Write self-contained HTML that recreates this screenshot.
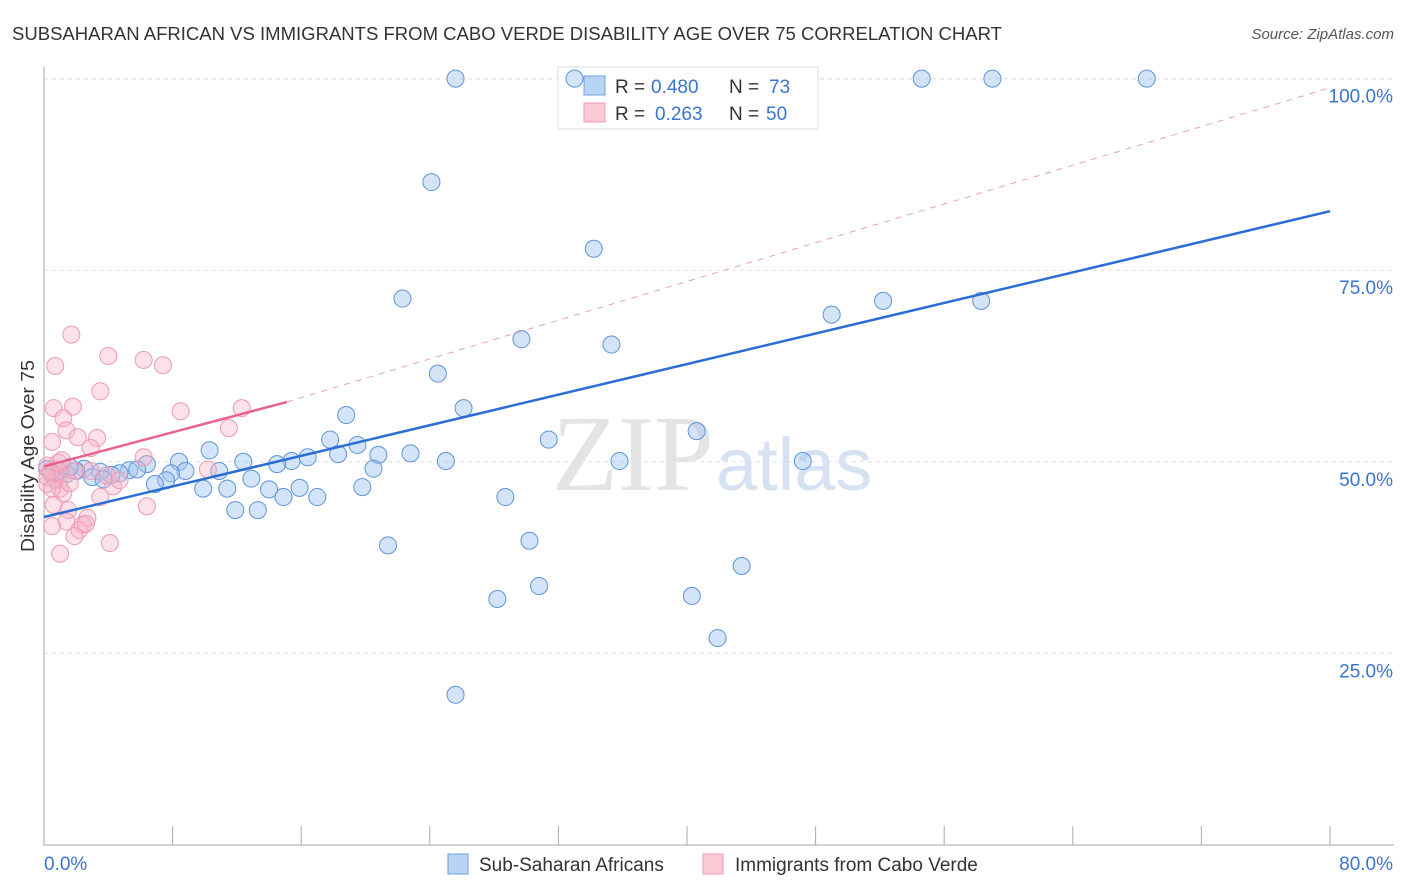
<!DOCTYPE html>
<html><head><meta charset="utf-8"><style>
body{margin:0;background:#fff;font-family:"Liberation Sans",sans-serif}
svg{display:block}
</style></head><body>
<svg id="c" width="1406" height="892" xmlns="http://www.w3.org/2000/svg">
<text x="12" y="40" font-size="18" fill="#333" textLength="990" lengthAdjust="spacingAndGlyphs">SUBSAHARAN AFRICAN VS IMMIGRANTS FROM CABO VERDE DISABILITY AGE OVER 75 CORRELATION CHART</text>
<text x="1394" y="39" font-size="15" fill="#555" font-style="italic" text-anchor="end">Source: ZipAtlas.com</text>
<text x="34" y="456" font-size="18" fill="#333" text-anchor="middle" transform="rotate(-90 34 456)" textLength="192" lengthAdjust="spacingAndGlyphs">Disability Age Over 75</text>
<g id="grid"></g>
<text x="714" y="490" font-size="108" fill="#e4e4e4" text-anchor="end" font-family="Liberation Serif,serif">ZIP</text>
<text x="716" y="490" font-size="74" fill="#d6e2f2">atlas</text>
<g>
<rect x="558" y="67" width="260" height="62" fill="#fff" stroke="#ddd"/>
<rect x="584" y="76" width="21" height="19" fill="#b9d3f3" stroke="#6fa0e0"/>
<rect x="584" y="103" width="21" height="19" fill="#fbc9d6" stroke="#ef9ab3"/>
<text x="615" y="93" font-size="19" fill="#333">R =</text>
<text x="651" y="93" font-size="19" fill="#3a74d0">0.480</text>
<text x="729" y="93" font-size="19" fill="#333">N =</text>
<text x="769" y="93" font-size="19" fill="#3a74d0">73</text>
<text x="615" y="120" font-size="19" fill="#333">R =</text>
<text x="655" y="120" font-size="19" fill="#3a74d0">0.263</text>
<text x="729" y="120" font-size="19" fill="#333">N =</text>
<text x="766" y="120" font-size="19" fill="#3a74d0">50</text>
</g>
<g id="marks"></g>
<rect x="448" y="854" width="20" height="20" fill="#b9d3f3" stroke="#6fa0e0"/>
<text x="479" y="871" font-size="19" fill="#333">Sub-Saharan Africans</text>
<rect x="703" y="854" width="20" height="20" fill="#fbc9d6" stroke="#ef9ab3"/>
<text x="735" y="871" font-size="19" fill="#333">Immigrants from Cabo Verde</text>
</svg>
<script>
const yTicks=[25,50,75,100];
const yTickLabels=["25.0%","50.0%","75.0%","100.0%"];
const xTickVals=[0,10,20,30,40,50,60,70,80,90,100].map(i=>i*0.8);
const blueX=[25.6,33.0,54.6,59.0,68.6,24.1,34.2,22.3,52.2,58.3,49.0,29.7,35.3,24.5,18.8,26.1,40.6,10.3,31.4,17.8,19.5,18.3,16.4,15.4,20.8,22.8,25.0,35.8,47.2,12.4,14.5,8.4,20.5,6.4,8.8,7.9,5.3,5.8,10.9,12.9,4.7,4.2,3.5,2.5,2.0,1.4,1.0,0.5,0.2,1.6,3.0,3.7,7.6,6.9,9.9,11.4,14.0,15.9,14.9,17.0,19.8,28.7,11.9,13.3,21.4,30.2,43.4,30.8,28.2,40.3,41.9,25.6,0.7];
const blueY=[100,100,100,100,100,86.5,77.8,71.3,71.0,71.0,69.2,66.0,65.3,61.5,56.1,57.0,54.0,51.5,52.9,52.9,52.2,51.0,50.6,50.1,50.9,51.1,50.1,50.1,50.1,50.0,49.7,50.0,49.1,49.7,48.8,48.5,48.9,49.0,48.8,47.8,48.5,48.3,48.7,49.1,48.8,48.4,48.8,48.4,49.1,49.3,48.0,47.7,47.6,47.1,46.5,46.5,46.4,46.6,45.4,45.4,46.7,45.4,43.7,43.7,39.1,39.7,36.4,33.8,32.1,32.5,27.0,19.6,47.6];
const pinkX=[1.7,4.0,6.2,7.4,0.7,3.5,8.5,12.3,0.6,1.8,1.2,1.4,11.5,2.1,3.3,0.5,2.9,6.2,10.2,0.2,0.7,1.1,0.7,0.2,1.0,1.2,3.5,4.3,6.4,0.6,1.5,1.4,2.7,2.4,2.2,1.9,0.5,4.1,1.0,0.4,0.9,1.9,2.9,0.2,1.6,0.5,3.9,1.1,4.7,2.6];
const pinkY=[66.6,63.8,63.3,62.6,62.5,59.2,56.6,57.0,57.0,57.2,55.7,54.1,54.4,53.2,53.1,52.6,51.8,50.6,49.0,49.5,49.0,48.4,47.7,47.1,46.5,45.9,45.4,46.8,44.2,44.4,43.7,42.2,42.7,41.8,41.1,40.3,41.6,39.4,38.0,48.8,49.9,48.8,48.8,48.0,47.2,46.5,48.2,50.2,47.6,41.9];
const blueTrend=[[0,42.8],[80,82.7]];
const pinkTrend=[[0,49.4],[15.1,57.8]];
const refTrend=[[15.1,57.8],[80,98.8]];
const X=v=>44+v*(1286/80), Y=v=>845-v*7.664;
const NS="http://www.w3.org/2000/svg";
function mk(tag,at,parent){const e=document.createElementNS(NS,tag);for(const k in at)e.setAttribute(k,at[k]);parent.appendChild(e);return e;}
const g=document.getElementById('grid'), m=document.getElementById('marks');
yTicks.forEach((t,i)=>{
 const l=mk('line',{x1:44,x2:1394,y1:Y(t),y2:Y(t),stroke:'#e2e2e2','stroke-dasharray':'4 4'},g);
 
 
 const tx=mk('text',{x:1393,y:Y(t)+24,'font-size':19,fill:'#3a74d0','text-anchor':'end'},g);
 tx.textContent=yTickLabels[i];
 
 
});
const gl=mk('line',{x1:44,x2:1394,y1:79,y2:79,stroke:'#e2e2e2','stroke-dasharray':'4 4'},g);


const ya=mk('line',{x1:44,x2:44,y1:67,y2:845,stroke:'#aaa'},g);


const xa=mk('line',{x1:44,x2:1394,y1:845,y2:845,stroke:'#aaa'},g);


xTickVals.forEach(v=>{const t=mk('line',{x1:X(v),x2:X(v),y1:826,y2:845,stroke:'#aaa'},g);
 
 });
[["0.0%",44,'start'],["80.0%",1393,'end']].forEach(a=>{const t=mk('text',{x:a[1],y:870,'font-size':19,fill:'#3a74d0','text-anchor':a[2]},g);t.textContent=a[0];
 
 });
blueX.forEach((x,i)=>{const c=mk('circle',{cx:X(x),cy:Y(blueY[i]),r:8.5,fill:'rgba(160,196,240,0.45)',stroke:'#5d93dc','stroke-width':1},m);
 
 });
pinkX.forEach((x,i)=>{const c=mk('circle',{cx:X(x),cy:Y(pinkY[i]),r:8.5,fill:'rgba(248,180,200,0.4)',stroke:'#ee9ab3','stroke-width':1},m);
 
 });
const rl=mk('line',{x1:X(refTrend[0][0]),y1:Y(refTrend[0][1]),x2:X(refTrend[1][0]),y2:Y(refTrend[1][1]),stroke:'#eaa0b6','stroke-dasharray':'6 6','stroke-width':1},m);


const bl=mk('line',{x1:X(blueTrend[0][0]),y1:Y(blueTrend[0][1]),x2:X(blueTrend[1][0]),y2:Y(blueTrend[1][1]),stroke:'#2a6dd4','stroke-width':2.5},m);


const pl=mk('line',{x1:X(pinkTrend[0][0]),y1:Y(pinkTrend[0][1]),x2:X(pinkTrend[1][0]),y2:Y(pinkTrend[1][1]),stroke:'#e8628d','stroke-width':2.5},m);


</script>
</body></html>
